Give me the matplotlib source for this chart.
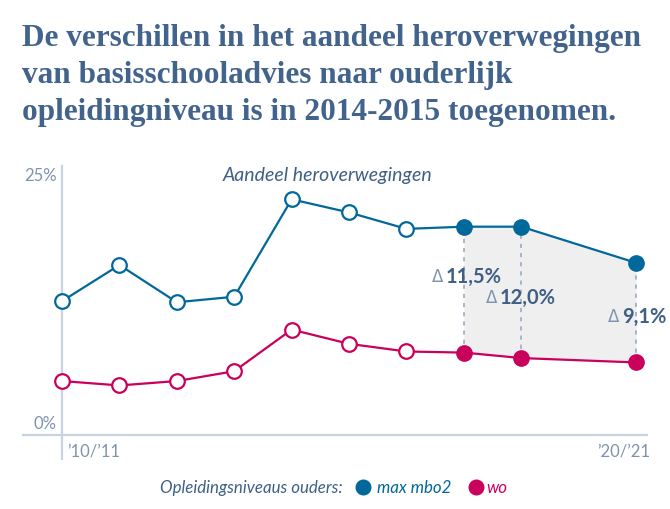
import numpy as np
import matplotlib.pyplot as plt

# schooljaren: index 0 = '10/'11 ... 10 = '20/'21 ('19/'20 ontbreekt)
years = [0, 1, 2, 3, 4, 5, 6, 7, 8, 10]
max_mbo2 = [12.2, 15.5, 12.1, 12.6, 21.5, 20.3, 18.8, 19.0, 19.0, 15.7]
wo = [4.9, 4.5, 4.9, 5.8, 9.6, 8.3, 7.6, 7.5, 7.0, 6.6]
filled_from = 7  # vanaf hier gevulde markers
delta_labels = ["11,5%", "12,0%", "9,1%"]
tick_labels = ["\u201910/\u201911", "\u201920/\u201921"]

BLUE = "#01689b"
PINK = "#ca005d"
TITLE = "#42648c"
AXIS = "#c9d3df"
TICK = "#7f93ae"
DARK = "#3e5f86"

plt.rcParams['font.family'] = ['Lato', 'DejaVu Sans']

W, H = 670, 510
fig = plt.figure(figsize=(W / 100, H / 100), dpi=100)


def px(x, y):
    return x / W, 1 - y / H


# axes: data x 0 -> px 62, 10 -> px 636 ; y 0 -> px 435.7, 25 -> px 162
ax = fig.add_axes([23 / W, (H - 435.7) / H, 624 / W, 273.7 / H])
ax.set_xlim(-0.68, 10.19)
ax.set_ylim(0, 25)
ax.axis('off')

# assen
ax.axhline(0, color=AXIS, lw=1.6, clip_on=False)
ax.plot([0, 0], [-2.2, 24.5], color=AXIS, lw=1.6, clip_on=False)

# grijs vlak tussen de lijnen voor de laatste jaren
xs = np.array(years[filled_from:])
top = np.array(max_mbo2[filled_from:])
bot = np.array(wo[filled_from:])
ax.fill_between(xs, bot, top, color="#efefef", lw=0, zorder=1)
for x, lo, hi in zip(xs, bot, top):
    ax.plot([x, x], [lo, hi], color="#9aabc2", lw=1.2, ls=(0, (2.5, 3)), zorder=2)

for vals, col in [(max_mbo2, BLUE), (wo, PINK)]:
    ax.plot(years, vals, color=col, lw=1.6, zorder=3)
    ax.plot(years[:filled_from], vals[:filled_from], 'o', ms=10.5, mfc='white',
            mec=col, mew=1.6, zorder=4)
    ax.plot(years[filled_from:], vals[filled_from:], 'o', ms=11, mfc=col,
            mec=col, mew=1, zorder=4)

# delta labels
label_pos = [(6.69, 14.5), (7.63, 12.6), (9.76, 10.85)]
for (lx, ly), lab in zip(label_pos, delta_labels):
    ax.text(lx - 0.05, ly, "\u0394", color=TICK, fontsize=12, ha='right', va='center',
            family=['DejaVu Sans'], zorder=5)
    ax.text(lx, ly, lab, color=DARK, fontsize=14.5, fontweight='bold', ha='left',
            va='center', zorder=5)

# y labels
fig.text(*px(57, 176), "25%", color=TICK, fontsize=12, ha='right', va='center')
fig.text(*px(57, 424), "0%", color=TICK, fontsize=12, ha='right', va='center')
# x labels
fig.text(*px(67, 452), tick_labels[0], color=TICK, fontsize=12, ha='left', va='center')
fig.text(*px(650, 452), tick_labels[1], color=TICK, fontsize=12, ha='right', va='center')

fig.text(*px(223, 175), "Aandeel heroverwegingen", color=DARK, fontsize=14,
         style='italic', ha='left', va='center')

# titel
fig.text(*px(22, 24), "De verschillen in het aandeel heroverwegingen\n"
         "van basisschooladvies naar ouderlijk\n"
         "opleidingniveau is in 2014-2015 toegenomen.",
         color=TITLE, fontsize=22.5, fontweight='bold', family=['Liberation Serif'],
         ha='left', va='top', linespacing=1.36)

# legenda
fig.text(*px(343, 488), "Opleidingsniveaus ouders:", color=DARK, fontsize=12.2,
         style='italic', ha='right', va='center')
ax.plot([363 / W], [1 - 488 / H], 'o', ms=10.5, color=BLUE, transform=fig.transFigure,
        clip_on=False)
fig.text(*px(377, 488), "max mbo2", color=BLUE, fontsize=12.2, style='italic',
         ha='left', va='center')
ax.plot([476 / W], [1 - 488 / H], 'o', ms=10.5, color=PINK, transform=fig.transFigure,
        clip_on=False)
fig.text(*px(486, 488), "wo", color=PINK, fontsize=12.2, style='italic',
         ha='left', va='center')

fig.savefig("out.png", dpi=100)
